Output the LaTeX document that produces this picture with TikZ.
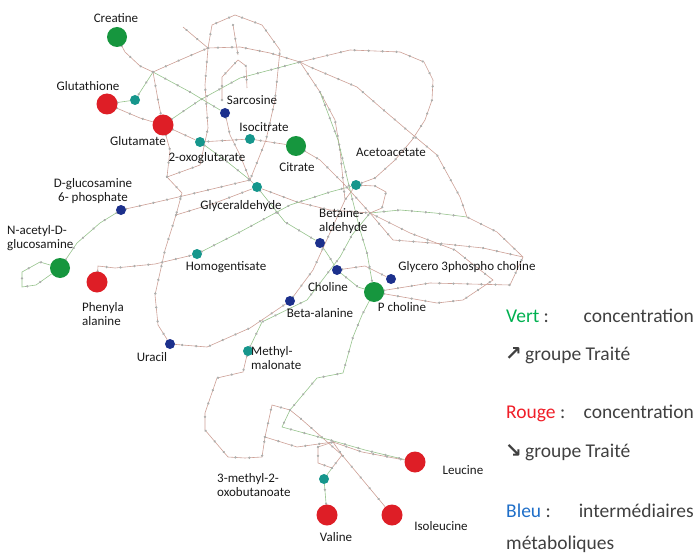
\documentclass[tikz,border=0pt]{standalone}
\usepackage{fontspec}
\setmainfont{Carlito}
\newfontfamily\arrowfont{DejaVu Sans}
\usepackage{tikz}
\usetikzlibrary{positioning,backgrounds,decorations.markings}
\definecolor{upgreen}{RGB}{22,150,62}
\definecolor{downred}{RGB}{222,30,38}
\definecolor{midteal}{RGB}{22,150,140}
\definecolor{interblue}{RGB}{28,48,140}
\definecolor{linkred}{RGB}{205,160,150}
\definecolor{linkgreen}{RGB}{150,195,140}
\definecolor{dotgray}{RGB}{172,174,172}
\definecolor{vertc}{RGB}{0,176,80}
\definecolor{rougec}{RGB}{240,30,40}
\definecolor{bleuc}{RGB}{30,110,200}
\definecolor{legtext}{RGB}{64,64,64}

\begin{document}
\begin{tikzpicture}[
    x=1pt, y=-1pt,
    up/.style={circle, fill=upgreen, minimum size=20pt, inner sep=0pt},
    down/.style={circle, fill=downred, minimum size=21pt, inner sep=0pt},
    mid/.style={circle, fill=midteal, minimum size=10pt, inner sep=0pt},
    inter/.style={circle, fill=interblue, minimum size=10pt, inner sep=0pt},
    lab/.style={font=\fontsize{13}{14.5}\selectfont, text=black!90, inner sep=0pt, align=left},
    legtxt/.style={font=\fontsize{19.5}{22}\selectfont, text=legtext, inner sep=0pt},
    rxn/.style={draw=linkred, line width=0.6pt, postaction={decorate},
                decoration={markings, mark=between positions 0 and 1 step 14pt with {\fill[dotgray] (0,0) circle (1.3pt);}}},
    rxng/.style={rxn, draw=linkgreen}
]
\useasboundingbox (0,0) rectangle (700,556);

% Metabolites - green (up)
\node[up] (creatine) at (117,37) {};
\node[up] (citrate) at (296,146) {};
\node[up] (nacetyl) at (60,268) {};
\node[up] (pcholine) at (374,292) {};

% Metabolites - red (down)
\node[down] (glutathione) at (107,104) {};
\node[down] (glutamate) at (163,125) {};
\node[down] (phenyla) at (97,282) {};
\node[down] (leucine) at (415,462) {};
\node[down] (valine) at (327,515) {};
\node[down] (isoleu) at (392,515) {};

% Teal
\node[mid] (gshb) at (135,100) {};
\node[mid] (oxoglut) at (200,142) {};
\node[mid] (isocitrate) at (250,139) {};
\node[mid] (glyceraldehyde) at (257,187) {};
\node[mid] (acetoacet) at (356,185) {};
\node[mid] (homogent) at (197,254) {};
\node[mid] (methylmal) at (248,351) {};
\node[mid] (oxobut) at (324,479) {};

% Blue (intermediates)
\node[inter] (sarcosine) at (225,113) {};
\node[inter] (glucosamine) at (121,210) {};
\node[inter] (betaine) at (320,243) {};
\node[inter] (choline) at (337,270) {};
\node[inter] (glycero) at (391,279) {};
\node[inter] (betaala) at (290,301) {};
\node[inter] (uracil) at (170,344) {};

% Junctions
\coordinate (jA) at (153,72);
\coordinate (jB) at (208,48);
\coordinate (jC) at (300,62);
\coordinate (jD) at (167,177);
\coordinate (jE) at (250,180);
\coordinate (jF) at (370,213);
\coordinate (jG) at (345,200);
\coordinate (jH) at (290,410);
\coordinate (jI) at (342,455);
\coordinate (jJ) at (265,437);
\coordinate (jK) at (523,257);
\coordinate (jM) at (460,197);
\coordinate (jN) at (176,215);
\coordinate (jP) at (320,92);
\coordinate (jQ) at (467,217);
\coordinate (jR) at (470,262);
\coordinate (pa) at (318,447);
\coordinate (pb) at (333,442);
\coordinate (pd) at (332,468);
\coordinate (pe) at (318,463);
\coordinate (stubA) at (183,27);
\coordinate (stubB) at (222,100);
\coordinate (stubC) at (247,88);
\coordinate (stubD) at (233,25);
\coordinate (stubE) at (238,55);

% Reaction links
\begin{scope}[on background layer]
\draw[rxn] (creatine) -- (125,52) -- (140,66) -- (jA);
\draw[rxn] (jA) -- (180,60) -- (jB) -- (240,47) -- (270,53) -- (jC);
\draw[rxn] (jB) -- (196,38) -- (stubA);
\draw[rxng] (jA) -- (190,92) -- (sarcosine);
\draw[rxng] (glutathione) -- (gshb) -- (jA);
\draw[rxn] (glutathione) -- (140,118) -- (glutamate);
\draw[rxn] (jA) -- (158,100) -- (glutamate);
\draw[rxn] (glutamate) -- (oxoglut) -- (isocitrate) -- (citrate);
\draw[rxng] (glutamate) -- (200,100) -- (240,78) -- (jC);
\draw[rxn] (jB) -- (212,25) -- (235,15) -- (262,25) -- (280,50) -- (275,100) -- (266,140) -- (jE);
\draw[rxn] (jB) -- (205,85) -- (208,128) -- (200,165) -- (jD);
\draw[rxn] (stubB) -- (222,77) -- (238,60) -- (246,66) -- (stubC);
\draw[rxn] (stubD) -- (stubE);
\draw[rxn] (glutamate) -- (170,150) -- (jD);
\draw[rxn] (sarcosine) -- (230,135) -- (240,155) -- (jE);
\draw[rxng] (oxoglut) -- (225,160) -- (jE);
\draw[rxn] (jE) -- (glyceraldehyde) -- (297,202) -- (330,210) -- (jF);
\draw[rxn] (jD) -- (182,193) -- (jN) -- (165,250) -- (155,295) -- (158,325) -- (uracil) -- (207,347) -- (250,328) -- (betaala);
\draw[rxn] (jN) -- (215,203) -- (glyceraldehyde);
\draw[rxng] (glucosamine) -- (100,223) -- (77,243) -- (nacetyl) -- (36,285) -- (22,287) -- (22,272) -- (40,262) -- (nacetyl);
\draw[rxn] (glucosamine) -- (157,202) -- (187,195) -- (jE);
\draw[rxn] (phenyla) -- (98,266) -- (115,268) -- (155,264) -- (homogent);
\draw[rxng] (homogent) -- (240,232) -- (290,205) -- (330,192) -- (acetoacet);
\draw[rxn] (citrate) -- (320,160) -- (343,183) -- (jF) -- (410,233) -- (455,250) -- (jR);
\draw[rxn] (jC) -- (jP) -- (335,120) -- (340,150) -- (jG);
\draw[rxn] (jC) -- (350,50) -- (400,52) -- (424,62) -- (433,80) -- (432,100) -- (425,120) -- (412,140) -- (395,160) -- (375,178) -- (acetoacet);
\draw[rxn] (jC) -- (310,67) -- (357,87) -- (380,107) -- (407,130) -- (437,155) -- (jM) -- (jQ) -- (497,232) -- (jK);
\draw[rxng] (jF) -- (400,210) -- (435,213) -- (jQ);
\draw[rxn] (jF) -- (393,240) -- (445,244) -- (483,248) -- (jK);
\draw[rxn] (pcholine) -- (430,283) -- (510,285) -- (jK);
\draw[rxn] (pcholine) -- (437,303) -- (463,300) -- (493,280) -- (jR);
\draw[rxng] (glyceraldehyde) -- (285,222) -- (betaine);
\draw[rxng] (betaine) -- (330,258) -- (choline) -- (358,287) -- (pcholine);
\draw[rxn] (choline) -- (365,266) -- (glycero);
\draw[rxng] (jP) -- (338,140) -- (350,190) -- (360,230) -- (367,253) -- (pcholine) -- (362,315) -- (353,337) -- (343,373) -- (317,378) -- (jH);
\draw[rxn] (betaala) -- (313,270) -- (jG) -- (acetoacet);
\draw[rxn] (acetoacet) -- (375,186) -- (386,192) -- (382,208) -- (jF);
\draw[rxng] (methylmal) -- (262,322) -- (307,300) -- (340,257) -- (352,235) -- (jF);
\draw[rxn] (methylmal) -- (243,372) -- (217,378) -- (205,413) -- (205,430) -- (228,457) -- (245,458) -- (262,457) -- (jJ);
\draw[rxn] (jJ) -- (272,405) -- (jH);
\draw[rxn] (jH) -- (300,418) -- (jI) -- (isoleu);
\draw[rxng] (jH) -- (282,427) -- (330,440) -- (365,450) -- (leucine);
\draw[rxn] (jJ) -- (297,447) -- (pb) -- (362,452) -- (leucine);
\draw[rxn] (pa) -- (pb) -- (jI) -- (pd) -- (pe) -- cycle;
\draw[rxng] (pd) -- (oxobut) -- (valine);
\end{scope}

% Labels
\node[lab] (tcreatine) at (116,18) {Creatine};
\node[lab] (tglutathione) at (88,86) {Glutathione};
\node[lab] (tglutamate) at (138,141) {Glutamate};
\node[lab] (toxoglut) at (207,158) {2-oxoglutarate};
\node[lab] (tsarcosine) at (252,100) {Sarcosine};
\node[lab] (tisocitrate) at (264,127) {Isocitrate};
\node[lab] (tcitrate) at (297,167) {Citrate};
\node[lab] (tacetoacet) at (391,152) {Acetoacetate};
\node[lab, align=center] (tglucosamine) at (93,191) {D-glucosamine\\6- phosphate};
\node[lab] (tglyceraldehyde) at (241,206) {Glyceraldehyde};
\node[lab, anchor=west] (tnacetyl) at (7,238) {N-acetyl-D-\\glucosamine};
\node[lab] (thomogent) at (226,267) {Homogentisate};
\node[lab, anchor=west] (tbetaine) at (319,221) {Betaine-\\aldehyde};
\node[lab] (tglycero) at (467,267) {Glycero 3phospho choline};
\node[lab] (tcholine) at (328,287) {Choline};
\node[lab] (tpcholine) at (402,307) {P choline};
\node[lab] (tbetaala) at (320,313) {Beta-alanine};
\node[lab, anchor=west] (tphenyla) at (82,314) {Phenyla\\alanine};
\node[lab] (turacil) at (152,357) {Uracil};
\node[lab, anchor=west] (tmethylmal) at (251,358) {Methyl-\\malonate};
\node[lab, anchor=west] (toxobut) at (217,485) {3-methyl-2-\\oxobutanoate};
\node[lab] (tleucine) at (463,470) {Leucine};
\node[lab] (tvaline) at (336,537) {Valine};
\node[lab] (tisoleu) at (441,526) {Isoleucine};

% Legend
\node[legtxt, anchor=base west] (vert) at (506,322) {\textcolor{vertc}{Vert} :};
\node[legtxt, anchor=base east] (concv) at (694,322) {concentration};
\node[legtxt, anchor=base west] (upgrp) at (505,360) {{\arrowfont\bfseries\fontsize{20}{22}\selectfont ↗}\,groupe Traité};
\node[legtxt, anchor=base west] (rouge) at (506,418) {\textcolor{rougec}{Rouge} :};
\node[legtxt, anchor=base east] (concr) at (694,418) {concentration};
\node[legtxt, anchor=base west] (downgrp) at (505,457) {{\arrowfont\bfseries\fontsize{20}{22}\selectfont ↘}\,groupe Traité};
\node[legtxt, anchor=base west] (bleu) at (506,517) {\textcolor{bleuc}{Bleu} :};
\node[legtxt, anchor=base east] (interm) at (694,517) {intermédiaires};
\node[legtxt, anchor=base west] (metab) at (506,549) {métaboliques};

\end{tikzpicture}
\end{document}
